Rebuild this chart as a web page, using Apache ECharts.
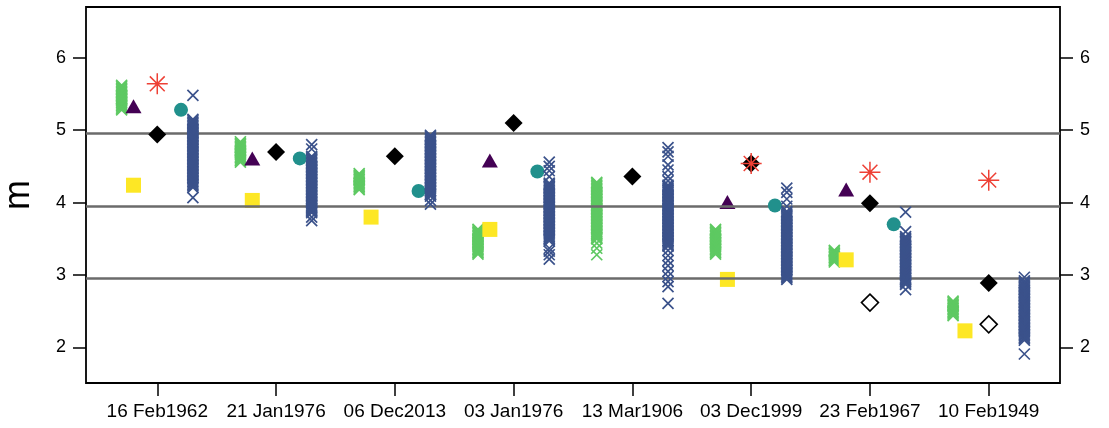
<!DOCTYPE html>
<html>
<head>
<meta charset="utf-8">
<script src="https://cdn.jsdelivr.net/npm/echarts@6/dist/echarts.min.js"></script>
<style>html,body{margin:0;padding:0;background:#fff}#c{width:1109px;height:428px}</style>
</head>
<body>
<div id="c"></div>
<script>
// ---- data ----
const categories = ['16 Feb1962','21 Jan1976','06 Dec2013','03 Jan1976','13 Mar1906','03 Dec1999','23 Feb1967','10 Feb1949'];
const yTicks = [2, 3, 4, 5, 6];
const refLines = [4.96, 3.95, 2.95];

// green crosses (per date)
const greenX = [
  [5.62,5.60,5.58,5.56,5.54,5.52,5.50,5.48,5.46,5.44,5.42,5.40,5.38,5.36,5.34,5.32,5.30,5.28],
  [4.84,4.82,4.80,4.78,4.76,4.74,4.72,4.70,4.68,4.66,4.64,4.62,4.60,4.58,4.56],
  [4.40,4.38,4.36,4.34,4.32,4.30,4.28,4.26,4.24,4.22,4.20,4.18],
  [3.63,3.61,3.59,3.57,3.55,3.53,3.51,3.49,3.47,3.45,3.43,3.41,3.39,3.37,3.35,3.33,3.31,3.29],
  [4.28,4.26,4.24,4.22,4.20,4.18,4.16,4.14,4.12,4.10,4.08,4.06,4.04,4.02,4.00,3.98,3.96,3.94,3.92,3.90,3.88,3.86,3.84,3.82,3.80,3.78,3.76,3.74,3.72,3.70,3.68,3.66,3.64,3.62,3.60,3.58,3.56,3.54,3.52,3.50,3.44,3.37,3.28],
  [3.63,3.61,3.59,3.57,3.55,3.53,3.51,3.49,3.47,3.45,3.43,3.41,3.39,3.37,3.35,3.33,3.31,3.29],
  [3.34,3.32,3.30,3.28,3.26,3.24,3.22,3.20,3.18],
  [2.64,2.62,2.60,2.58,2.56,2.54,2.52,2.50,2.48,2.46,2.44]
];
const purpleTri = [5.33, 4.61, null, 4.58, null, 4.01, 4.18, null];
const yellowSq  = [4.24, 4.03, 3.80, 3.63, null, 2.94, 3.21, 2.23];
const tealCirc  = [5.28, 4.61, 4.16, 4.43, null, 3.96, 3.70, null];
const blackDia  = [4.94, 4.70, 4.64, 5.10, 4.36, 4.54, 3.99, 2.89];
const redStar   = [5.64, null, null, null, null, 4.54, 4.42, 4.31];
const openDia   = [null, null, null, null, null, null, 2.62, 2.32];
// blue crosses (per date)
const blueX = [
  [5.48,5.15,5.13,5.11,5.09,5.07,5.05,5.03,5.01,4.99,4.97,4.95,4.93,4.91,4.89,4.87,4.85,4.83,4.81,4.79,4.77,4.75,4.73,4.71,4.69,4.67,4.65,4.63,4.61,4.59,4.57,4.55,4.53,4.51,4.49,4.47,4.45,4.43,4.41,4.39,4.37,4.35,4.33,4.31,4.29,4.27,4.25,4.23,4.21,4.07],
  [4.80,4.74,4.64,4.62,4.60,4.58,4.56,4.54,4.52,4.50,4.48,4.46,4.44,4.42,4.40,4.38,4.36,4.34,4.32,4.30,4.28,4.26,4.24,4.22,4.20,4.18,4.16,4.14,4.12,4.10,4.08,4.06,4.04,4.02,4.00,3.98,3.96,3.94,3.92,3.90,3.88,3.86,3.80,3.75],
  [4.93,4.91,4.89,4.87,4.85,4.83,4.81,4.79,4.77,4.75,4.73,4.71,4.69,4.67,4.65,4.63,4.61,4.59,4.57,4.55,4.53,4.51,4.49,4.47,4.45,4.43,4.41,4.39,4.37,4.35,4.33,4.31,4.29,4.27,4.25,4.23,4.21,4.19,4.17,4.15,4.13,4.11,4.09,4.03,3.98],
  [4.56,4.50,4.44,4.36,4.27,4.25,4.23,4.21,4.19,4.17,4.15,4.13,4.11,4.09,4.07,4.05,4.03,4.01,3.99,3.97,3.95,3.93,3.91,3.89,3.87,3.85,3.83,3.81,3.79,3.77,3.75,3.73,3.71,3.69,3.67,3.65,3.63,3.61,3.59,3.57,3.55,3.53,3.51,3.49,3.47,3.37,3.33,3.28,3.22],
  [4.76,4.70,4.64,4.52,4.45,4.36,4.30,4.24,4.22,4.20,4.18,4.16,4.14,4.12,4.10,4.08,4.06,4.04,4.02,4.00,3.98,3.96,3.94,3.92,3.90,3.88,3.86,3.84,3.82,3.80,3.78,3.76,3.74,3.72,3.70,3.68,3.66,3.64,3.62,3.60,3.58,3.56,3.54,3.52,3.50,3.48,3.46,3.44,3.42,3.40,3.34,3.27,3.20,3.13,3.05,2.98,2.91,2.84,2.61],
  [4.20,4.14,4.05,3.95,3.88,3.86,3.84,3.82,3.80,3.78,3.76,3.74,3.72,3.70,3.68,3.66,3.64,3.62,3.60,3.58,3.56,3.54,3.52,3.50,3.48,3.46,3.44,3.42,3.40,3.38,3.36,3.34,3.32,3.30,3.28,3.26,3.24,3.22,3.20,3.18,3.16,3.14,3.12,3.10,3.08,3.06,3.04,3.02,3.00,2.98,2.96,2.94],
  [3.87,3.60,3.53,3.51,3.49,3.47,3.45,3.43,3.41,3.39,3.37,3.35,3.33,3.31,3.29,3.27,3.25,3.23,3.21,3.19,3.17,3.15,3.13,3.11,3.09,3.07,3.05,3.03,3.01,2.99,2.97,2.95,2.93,2.91,2.89,2.87,2.80],
  [2.97,2.92,2.90,2.88,2.86,2.84,2.82,2.80,2.78,2.76,2.74,2.72,2.70,2.68,2.66,2.64,2.62,2.60,2.58,2.56,2.54,2.52,2.50,2.48,2.46,2.44,2.42,2.40,2.38,2.36,2.34,2.32,2.30,2.28,2.26,2.24,2.22,2.20,2.18,2.16,2.14,2.12,2.10,1.91]
];

// ---- build ----
const X_PATH = 'path://M0,0L10,10M10,0L0,10';
const STAR_PATH = 'path://M5,0L5,10M0,5L10,5M1.46,1.46L8.54,8.54M8.54,1.46L1.46,8.54';
function multi(groups, off) {
  const out = [];
  groups.forEach((vals, i) => vals.forEach(v => out.push([i + 1 + off, v])));
  return out;
}
function single(vals, off) {
  const out = [];
  vals.forEach((v, i) => { if (v !== null) out.push([i + 1 + off, v]); });
  return out;
}

const chart = echarts.init(document.getElementById('c'), null, {renderer: 'canvas'});
const yAxisBase = {
  type: 'value', min: 1.51, max: 6.70,
  axisLine: {show: false},
  splitLine: {show: false},
  axisTick: {show: true, length: 13, lineStyle: {color: '#000', width: 1.5}, customValues: yTicks},
  axisLabel: {color: '#000', fontSize: 18, fontFamily: 'Liberation Sans', margin: 20, customValues: yTicks}
};
chart.setOption({
  animation: false,
  backgroundColor: '#fff',
  grid: {left: 86, right: 49, top: 7, bottom: 45, show: true, borderColor: '#000', borderWidth: 1.8, containLabel: false, outerBoundsMode: 'none'},
  graphic: [{
    type: 'text', x: 19, y: 195, rotation: Math.PI / 2,
    style: {text: 'm', font: '36px "Liberation Sans"', fill: '#000', align: 'center', verticalAlign: 'middle'}
  }],
  xAxis: {
    type: 'value', min: 0.4, max: 8.6,
    axisLine: {show: false},
    splitLine: {show: false},
    axisTick: {show: true, length: 13, lineStyle: {color: '#000', width: 1.5}, customValues: [1,2,3,4,5,6,7,8]},
    axisLabel: {color: '#000', fontSize: 19, fontFamily: 'Liberation Sans', margin: 19,
      customValues: [1,2,3,4,5,6,7,8], formatter: v => categories[Math.round(v) - 1] || ''}
  },
  yAxis: [
    Object.assign({}, yAxisBase, {position: 'left'}),
    Object.assign({}, yAxisBase, {position: 'right'})
  ],
  series: [
    {type: 'scatter', data: [], z: 1, silent: true,
      markLine: {silent: true, symbol: 'none', label: {show: false}, animation: false,
        lineStyle: {color: '#6b6b6b', width: 2.5, type: 'solid', opacity: 1},
        data: refLines.map(v => ({yAxis: v}))}},
    {type: 'scatter', z: 2, data: multi(greenX, -0.3), symbol: X_PATH, symbolSize: 11,
      itemStyle: {color: 'none', borderColor: '#5ec962', borderWidth: 1.7, opacity: 1}},
    {type: 'scatter', z: 3, data: single(purpleTri, -0.2), symbol: 'triangle', symbolSize: [16, 14],
      itemStyle: {color: '#440154', opacity: 1}},
    {type: 'scatter', z: 4, data: single(yellowSq, -0.2), symbol: 'rect', symbolSize: 15,
      itemStyle: {color: '#fde725', opacity: 1}},
    {type: 'scatter', z: 5, data: single(tealCirc, 0.2), symbol: 'circle', symbolSize: 14,
      itemStyle: {color: '#21908c', opacity: 1}},
    {type: 'scatter', z: 6, data: single(blackDia, 0), symbol: 'diamond', symbolSize: 18,
      itemStyle: {color: '#000', opacity: 1}},
    {type: 'scatter', z: 7, data: single(redStar, 0), symbol: STAR_PATH, symbolSize: 21,
      itemStyle: {color: 'none', borderColor: '#ee4035', borderWidth: 1.5, opacity: 1}},
    {type: 'scatter', z: 8, data: multi(blueX, 0.3), symbol: X_PATH, symbolSize: 11,
      itemStyle: {color: 'none', borderColor: '#3b528b', borderWidth: 1.7, opacity: 1}},
    {type: 'scatter', z: 9, data: single(openDia, 0), symbol: 'diamond', symbolSize: 17,
      itemStyle: {color: '#fff', borderColor: '#000', borderWidth: 1.6, opacity: 1}}
  ]
});
</script>
</body>
</html>
